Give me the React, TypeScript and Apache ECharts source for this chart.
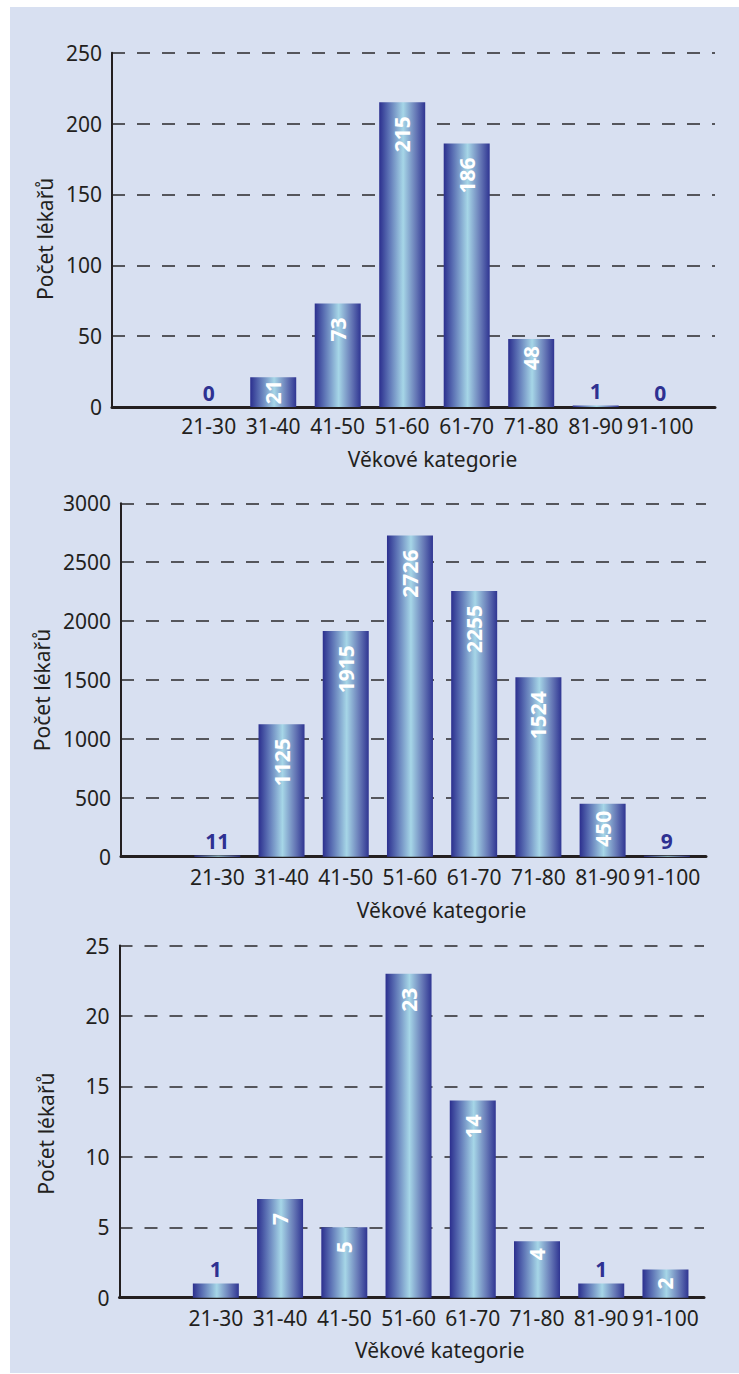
import React, { useEffect, useRef } from "react";
import * as echarts from "echarts";

// Age groups shown on every chart's horizontal axis
const CATEGORIES = ["21-30", "31-40", "41-50", "51-60", "61-70", "71-80", "81-90", "91-100"];

// Number of doctors per age group, one array per chart
const VALUES_TOP = [0, 21, 73, 215, 186, 48, 1, 0];
const VALUES_MIDDLE = [11, 1125, 1915, 2726, 2255, 1524, 450, 9];
const VALUES_BOTTOM = [1, 7, 5, 23, 14, 4, 1, 2];

// Value-axis ranges (max, step) per chart
const Y_MAX = [250, 3000, 25];
const Y_STEP = [50, 500, 5];

const Y_TITLE = "Počet lékařů";
const X_TITLE = "Věkové kategorie";

const FONT = "Noto Sans";
const INK = "#231f20";
const NAVY = "#2e3192";
const AXIS_FONT_SIZE = 21;

const barGradient = () =>
  new echarts.graphic.LinearGradient(0, 0, 1, 0, [
    { offset: 0, color: "#2b2f8e" },
    { offset: 0.2, color: "#5a6fb3" },
    { offset: 0.52, color: "#a6d6e7" },
    { offset: 0.8, color: "#6678b6" },
    { offset: 1, color: "#2f3592" },
  ]);

type Panel = {
  values: number[];
  max: number;
  step: number;
  left: number;
  top: number;
  width: number;
  height: number;
  xMax: number; // axis extent in slot units (slot 0 is left empty)
  labelMargin: number;
  xNameGap: number;
  xNameShift: number;
  yNameGap: number;
  yNameShift: number;
};

const PANELS: Panel[] = [
  { values: VALUES_TOP, max: Y_MAX[0], step: Y_STEP[0], left: 112, top: 52.7, width: 603, height: 354.3, xMax: 9.35, labelMargin: 8, xNameGap: 41, xNameShift: 19, yNameGap: 52, yNameShift: 9 },
  { values: VALUES_MIDDLE, max: Y_MAX[1], step: Y_STEP[1], left: 121, top: 503.3, width: 585, height: 353.4, xMax: 9.11, labelMargin: 10, xNameGap: 43, xNameShift: 28, yNameGap: 62, yNameShift: 10 },
  { values: VALUES_BOTTOM, max: Y_MAX[2], step: Y_STEP[2], left: 119.5, top: 945.5, width: 584.5, height: 352.2, xMax: 9.1, labelMargin: 10, xNameGap: 42, xNameShift: 28, yNameGap: 63, yNameShift: 12 },
];

function barLabel(v: number, max: number) {
  const ratio = v / max;
  const common = { show: true, fontFamily: FONT, fontWeight: "bold" as const, fontSize: 21 };
  if (ratio < 0.06) {
    return { ...common, position: "top" as const, distance: 4, color: NAVY, rotate: 0 };
  }
  if (ratio < 0.1) {
    return { ...common, position: "inside" as const, rotate: 90, color: "#ffffff" };
  }
  return {
    ...common,
    position: "insideTop" as const,
    distance: ratio < 0.2 ? 7 : 14,
    rotate: 90,
    align: "right" as const,
    verticalAlign: "middle" as const,
    color: "#ffffff",
  };
}

function slotLabel(v: number) {
  const frac = v - Math.floor(v);
  if (Math.abs(frac - 0.5) > 1e-6) return "";
  const idx = Math.floor(v) - 1;
  return idx >= 0 && idx < CATEGORIES.length ? CATEGORIES[idx] : "";
}

export default function App() {
  const ref = useRef<HTMLDivElement>(null);

  useEffect(() => {
    document.body.style.margin = "0";
    if (!ref.current) return;
    const chart = echarts.init(ref.current, undefined, { renderer: "svg" });

    const grid = PANELS.map((p) => ({ left: p.left, top: p.top, width: p.width, height: p.height }));

    const xAxis = PANELS.map((p, i) => ({
      type: "value" as const,
      gridIndex: i,
      min: 0,
      max: p.xMax,
      interval: 0.5,
      axisLine: { show: true, lineStyle: { color: INK, width: 3 } },
      axisTick: { show: false },
      splitLine: { show: false },
      axisLabel: {
        formatter: slotLabel,
        color: INK,
        fontFamily: FONT,
        fontSize: AXIS_FONT_SIZE,
        margin: p.labelMargin,
        showMinLabel: true,
        showMaxLabel: true,
      },
      name: X_TITLE,
      nameLocation: "middle" as const,
      nameGap: p.xNameGap,
      nameTextStyle: {
        color: INK,
        fontFamily: FONT,
        fontSize: AXIS_FONT_SIZE,
        padding: [0, 0, 0, p.xNameShift * 2],
      },
    }));

    const yAxis = PANELS.map((p, i) => ({
      type: "value" as const,
      gridIndex: i,
      min: 0,
      max: p.max,
      interval: p.step,
      axisLine: { show: true, lineStyle: { color: INK, width: 2 } },
      axisTick: { show: false },
      axisLabel: {
        formatter: (v: number) => String(v),
        color: INK,
        fontFamily: FONT,
        fontSize: AXIS_FONT_SIZE,
        margin: 10,
      },
      splitLine: {
        show: true,
        lineStyle: { color: "#55565c", width: 2, type: [13, 12] },
      },
      name: Y_TITLE,
      nameLocation: "middle" as const,
      nameGap: p.yNameGap,
      nameTextStyle: {
        color: INK,
        fontFamily: FONT,
        fontSize: AXIS_FONT_SIZE,
        padding: [0, p.yNameShift * 2, 0, 0],
      },
    }));

    const series = PANELS.map((p, i) => ({
      type: "bar" as const,
      xAxisIndex: i,
      yAxisIndex: i,
      barWidth: 46,
      itemStyle: { color: barGradient() },
      data: p.values.map((v, k) => ({
        value: [k + 1.5, v],
        label: barLabel(v, p.max),
      })),
    }));

    chart.setOption({
      animation: false,
      grid,
      xAxis,
      yAxis,
      series,
    });

    return () => chart.dispose();
  }, []);

  return (
    <div style={{ position: "relative", width: 739, height: 1374, background: "#ffffff", overflow: "hidden" }}>
      <div
        style={{
          position: "absolute",
          left: 10,
          top: 7,
          width: 729,
          height: 1366,
          background: "#d8e0f1",
        }}
      />
      <div ref={ref} style={{ position: "absolute", left: 0, top: 0, width: 739, height: 1374 }} />
    </div>
  );
}
